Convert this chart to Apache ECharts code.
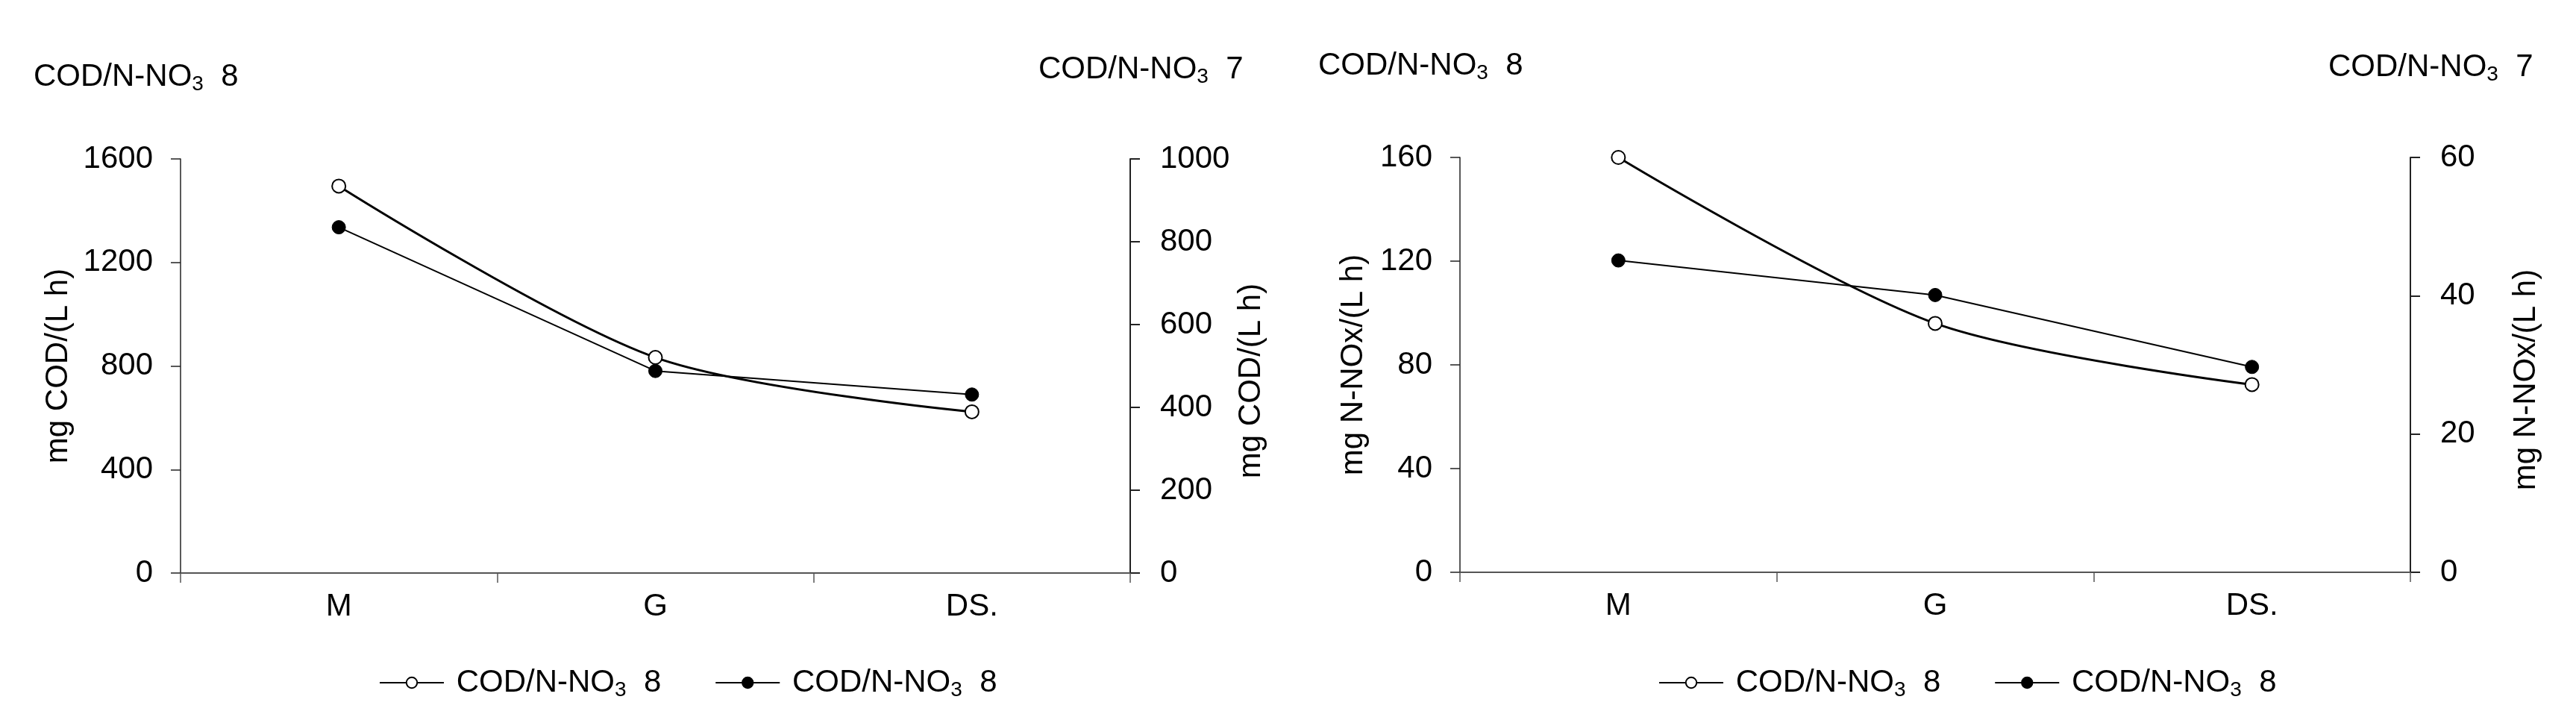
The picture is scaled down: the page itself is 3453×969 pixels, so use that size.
<!DOCTYPE html>
<html>
<head>
<meta charset="utf-8">
<script src="https://cdn.jsdelivr.net/npm/echarts@6/dist/echarts.min.js"></script>
<style>
  html, body { margin: 0; padding: 0; background: #fff; }
  #chart { width: 3453px; height: 969px; }
</style>
</head>
<body>
<div id="chart"></div>
<script>
// categories on the x axis
const categories = ['M', 'G', 'DS.']

// left panel: COD removal, open circles on left axis, filled on right axis
const codOpen = [1495, 833, 623]
const codFilled = [835, 488, 431]

// right panel: N-NOx removal
const noxOpen = [160, 96, 72.4]
const noxFilled = [45.1, 40.1, 29.7]

// axis ranges / ticks
const codLeftAxis = { min: 0, max: 1600, interval: 400 }
const codRightAxis = { min: 0, max: 1000, interval: 200 }
const noxLeftAxis = { min: 0, max: 160, interval: 40 }
const noxRightAxis = { min: 0, max: 60, interval: 20 }

const codName = 'mg COD/(L h)'
const noxName = 'mg N-NOx/(L h)'
// headings: [prefix, subscript, suffix]
const headLeft = ['COD/N-NO', '3', '  8']
const headRight = ['COD/N-NO', '3', '  7']
const legendLabel = ['COD/N-NO', '3', '  8']

const FONT = "'Liberation Sans', Arial, sans-serif"
const FS = 42

const rich = {
  a: { fontFamily: FONT, fontSize: FS, fontWeight: 'normal', lineHeight: 48, color: '#000' },
  s: { fontFamily: FONT, fontSize: 28, fontWeight: 'normal', lineHeight: 24, color: '#000', verticalAlign: 'bottom' }
}
function sub(parts) {
  return '{a|' + parts[0] + '}{s|' + parts[1] + '}{a|' + parts[2] + '}'
}
function title(parts, left, top) {
  return { text: sub(parts), left: left, top: top, padding: 0, textStyle: { fontWeight: 'normal', rich: rich } }
}

function yAxis(gridIndex, range, name, position, nameGap, lineWidth) {
  return {
    type: 'value', gridIndex: gridIndex, position: position,
    min: range.min, max: range.max, interval: range.interval,
    name: name, nameLocation: 'middle', nameGap: nameGap, nameRotate: 90,
    nameTextStyle: {
      fontFamily: FONT, fontSize: FS, color: '#000',
      // right-hand names sit a little below the middle in the original
      padding: position === 'right' ? [0, 40, 0, 0] : 0
    },
    axisLine: { show: true, lineStyle: { color: '#222', width: lineWidth } },
    axisTick: { show: true, inside: false, length: 13, lineStyle: { color: '#222', width: lineWidth } },
    axisLabel: {
      margin: position === 'left' ? 37 : 40, fontFamily: FONT, fontSize: FS, color: '#000',
      formatter: v => String(v)
    },
    splitLine: { show: false }
  }
}
function xAxis(gridIndex) {
  return {
    type: 'category', gridIndex: gridIndex, data: categories, boundaryGap: true,
    axisLine: { lineStyle: { color: '#555', width: 2 } },
    axisTick: { show: true, length: 13, lineStyle: { color: '#555', width: 1.5 } },
    axisLabel: { margin: 24, fontFamily: FONT, fontSize: FS, color: '#000' }
  }
}
function openSeries(name, data, xi, yi) {
  return {
    name: name, type: 'line', xAxisIndex: xi, yAxisIndex: yi, data: data,
    smooth: 0.3, symbol: 'circle', symbolSize: 18,
    lineStyle: { color: '#000', width: 3 },
    itemStyle: { color: '#fff', borderColor: '#000', borderWidth: 2 },
    z: 3
  }
}
function filledSeries(name, data, xi, yi) {
  return {
    name: name, type: 'line', xAxisIndex: xi, yAxisIndex: yi, data: data,
    smooth: false, symbol: 'circle', symbolSize: 18,
    lineStyle: { color: '#000', width: 2 },
    itemStyle: { color: '#000', borderColor: '#000', borderWidth: 1 },
    z: 2
  }
}
function legend(names, left) {
  return {
    data: names, left: left, top: 894, padding: 0, orient: 'horizontal',
    itemWidth: 86, itemHeight: 18, itemGap: 72,
    formatter: () => '{a| ' + legendLabel[0] + '}{s|' + legendLabel[1] + '}{a|' + legendLabel[2] + '}',
    textStyle: { rich: rich }
  }
}

const chart = echarts.init(document.getElementById('chart'), null, { renderer: 'canvas' })
chart.setOption({
  backgroundColor: '#fff',
  animation: false,
  title: [
    title(headLeft, 45, 79),
    title(headRight, 1392, 69),
    title(headLeft, 1767, 64),
    title(headRight, 3121, 66)
  ],
  legend: [
    legend(['cod-open', 'cod-filled'], 508),
    legend(['nox-open', 'nox-filled'], 2223)
  ],
  grid: [
    { left: 242, top: 213, width: 1273, height: 555 },
    { left: 1957, top: 211, width: 1274, height: 556 }
  ],
  xAxis: [xAxis(0), xAxis(1)],
  yAxis: [
    yAxis(0, codLeftAxis, codName, 'left', 143, 1.5),
    yAxis(0, codRightAxis, codName, 'right', 141, 2),
    yAxis(1, noxLeftAxis, noxName, 'left', 122, 1.5),
    yAxis(1, noxRightAxis, noxName, 'right', 134, 2)
  ],
  series: [
    openSeries('cod-open', codOpen, 0, 0),
    filledSeries('cod-filled', codFilled, 0, 1),
    openSeries('nox-open', noxOpen, 1, 2),
    filledSeries('nox-filled', noxFilled, 1, 3)
  ]
})
</script>
</body>
</html>
